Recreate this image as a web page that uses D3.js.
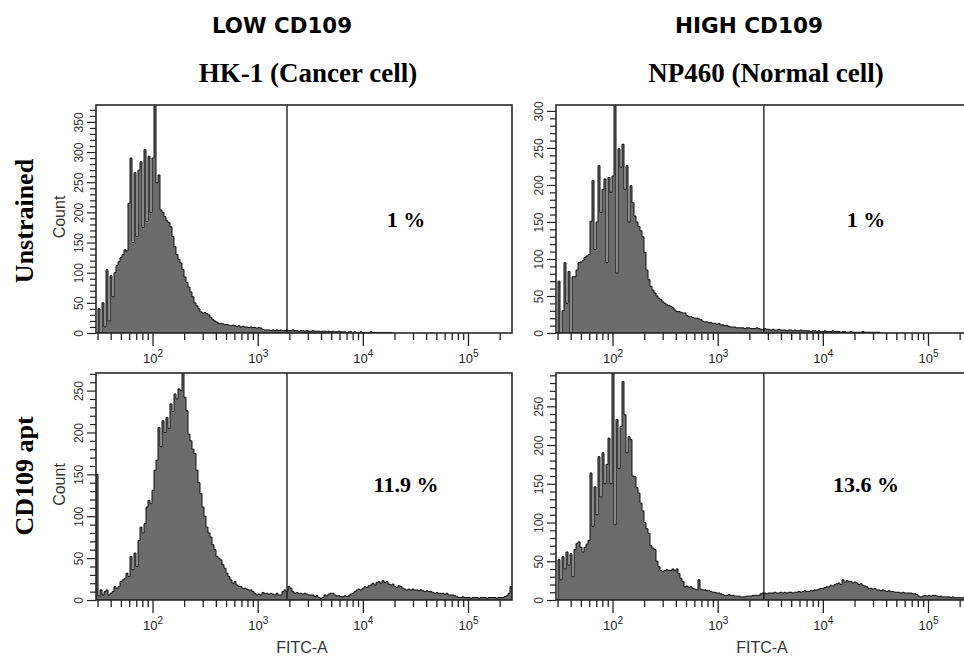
<!DOCTYPE html>
<html>
<head>
<meta charset="utf-8">
<script src="https://cdn.jsdelivr.net/npm/d3@7"></script>
<style>
  body { margin: 0; background: #fff; }
  svg { display: block; }
</style>
</head>
<body>
<svg id="chart" width="964" height="657"></svg>
<script>
// counts per channel, channels are log spaced over the FITC-A range
var hk1Unstained = [0,40,0,50,10,105,20,95,60,100, 112,118,125,130,138,136,215,290,150,266,
  160,270,284,175,304,185,293,200,290,400, 249,262,204,200,193,186,183,176,160,143,
  130,122,116,105,93,84,76,68,60,50, 45,40,35,33,34,32,30,26,22,20,
  18,16,16,15,14,14,13,12,13,12, 11,12,10,11,10,10,9,10,9,9,
  8,9,8,6,5,5,5,4,5,4, 5,4,5,4,4,5,4,4,5,4,
  4,3,4,4,3,4,3,3,4,3, 3,3,2,3,3,2,3,2,3,2,
  2,3,2,2,2,1,2,2,1,2, 1,1,2,1,1,1,1,2,1,1, 1,1,1,1,1,1,1,1];

var np460Unstained = [0,70,0,30,95,40,83,0,76,76, 85,95,96,98,102,104,106,151,206,113,
  150,226,163,194,208,95,210,190,212,320, 81,249,224,255,194,226,150,199,176,158,
  150,144,138,130,109,85,72,63,58,54, 50,47,45,42,40,38,37,36,34,31,
  29,29,28,27,27,24,22,22,21,20, 20,19,18,16,15,15,14,14,13,13,
  12,13,11,11,10,10,9,8,8,8, 7,7,7,7,6,7,7,6,6,6,
  7,6,5,5,6,5,5,4,5,4, 4,5,4,4,4,3,4,4,3,4,
  3,3,4,3,3,3,3,2,3,3, 2,3,2,2,3,2,2,2,3,2,
  2,2,1,2,2,1,1,2,1,1, 1,1,1,2,1,1,1,1,1,1,1,1];

var hk1Apt = [150,5,12,6,10,12,6,8,10,16, 14,16,22,24,26,32,28,52,36,56,
  40,71,87,80,91,111,119,115,131,155, 167,206,183,214,200,218,205,234,225,246,
  240,252,250,290,242,226,198,190,180,175, 155,140,127,111,100,87,80,75,66,60,
  52,50,48,42,38,32,28,24,20,22, 18,16,16,14,14,13,12,12,10,8,
  6,7,6,9,8,8,7,8,7,6, 8,6,6,10,12,10,16,14,10,8,
  9,8,8,7,8,7,6,6,6,4, 5,3,2,3,6,5,7,8,8,6,
  5,5,4,4,5,4,5,7,8,10, 12,13,12,14,16,15,17,18,20,18,
  21,22,20,23,21,22,19,18,19,16, 15,17,16,14,13,12,13,12,13,12,
  12,11,12,11,10,11,10,10,9,8, 9,8,8,8,7,8,6,6,6,5,
  4,3,3,4,3,3,3,2,3,3, 3,2,3,3,3,2,3,3,3,3, 2,3,3,3,4,5,8,16];

var np460Apt = [0,52,26,56,40,62,45,60,30,65, 73,75,68,62,68,72,77,164,95,146,
  110,185,133,190,150,175,209,150,300,97, 233,170,224,282,239,190,211,207,160,159,
  145,138,125,115,100,92,86,70,67,65, 50,43,38,37,38,39,38,38,40,38,
  40,34,28,24,17,18,16,17,15,14, 13,26,14,13,13,12,12,11,10,10,
  9,9,8,7,6,6,7,6,6,5, 5,5,4,4,4,5,5,5,6,6,
  6,6,8,9,9,8,9,9,9,10, 9,9,10,9,10,9,10,10,9,10,
  10,11,10,11,12,11,11,12,12,13, 13,14,15,15,16,17,17,19,18,20,
  21,22,20,26,23,25,24,24,22,23, 22,20,21,19,18,17,15,15,14,15,
  13,13,12,13,12,11,12,11,11,10, 10,10,9,10,9,9,9,9,8,8,
  7,5,4,5,6,5,6,5,6,6, 5,4,5,4,4,4,4,3,4,3, 3,3,3,3,3,3,4,8];

var channels = 208;
var fitcRange = [29, 262144];
var countMax = [378, 308, 271, 293];
var gates = [1900, 2750];
var positive = ["1 %", "1 %", "11.9 %", "13.6 %"];
var topTitles = ["LOW CD109", "HIGH CD109"];
var cellTitles = ["HK-1 (Cancer cell)", "NP460 (Normal cell)"];
var rowTitles = ["Unstrained", "CD109 apt"];

var series = [hk1Unstained, np460Unstained, hk1Apt, np460Apt];

var svg = d3.select("#chart"),
    colX = [96, 556],
    rowY = [[105, 333], [373, 600]],
    plotW = 416;

var serif = "'Liberation Serif', 'Times New Roman', serif",
    sans = "'Liberation Sans', Arial, sans-serif";

var edges = d3.range(channels + 1).map(function(j) {
  return fitcRange[0] * Math.pow(fitcRange[1] / fitcRange[0], j / channels);
});

var minorX = [], majorX = [];
[1, 2, 3, 4, 5].forEach(function(d) {
  d3.range(1, 10).forEach(function(m) {
    var v = m * Math.pow(10, d);
    if (v < fitcRange[0] || v > fitcRange[1]) return;
    (m === 1 ? majorX : minorX).push(v);
  });
});

// column titles
svg.selectAll(".top-title")
  .data(topTitles)
  .enter().append("text")
    .attr("x", function(d, i) { return [282, 749][i]; })
    .attr("y", 33)
    .attr("text-anchor", "middle")
    .attr("textLength", function(d, i) { return [140, 148][i]; })
    .attr("lengthAdjust", "spacingAndGlyphs")
    .style("font-family", "'DejaVu Sans', sans-serif")
    .style("font-weight", "bold")
    .style("font-size", "22px")
    .text(function(d) { return d; });

svg.selectAll(".cell-title")
  .data(cellTitles)
  .enter().append("text")
    .attr("x", function(d, i) { return [308, 766][i]; })
    .attr("y", 82)
    .attr("text-anchor", "middle")
    .style("font-family", serif)
    .style("font-weight", "bold")
    .style("font-size", "27px")
    .text(function(d) { return d; });

svg.selectAll(".row-title")
  .data(rowTitles)
  .enter().append("text")
    .attr("transform", function(d, i) { return "translate(33," + [221, 476][i] + ") rotate(-90)"; })
    .attr("text-anchor", "middle")
    .style("font-family", serif)
    .style("font-weight", "bold")
    .style("font-size", "26px")
    .text(function(d) { return d; });

series.forEach(function(counts, k) {
  var row = Math.floor(k / 2), col = k % 2,
      top = rowY[row][0], bottom = rowY[row][1],
      h = bottom - top;

  var g = svg.append("g").attr("transform", "translate(" + colX[col] + "," + top + ")");

  var x = d3.scaleLog().domain(fitcRange).range([0, plotW]);
  var y = d3.scaleLinear().domain([0, countMax[k]]).range([h, 0]);

  g.append("clipPath")
      .attr("id", "clip" + k)
    .append("rect")
      .attr("width", plotW)
      .attr("height", h);

  var pts = counts.map(function(c, j) { return [edges[j], c]; });
  pts.push([edges[counts.length], counts[counts.length - 1]]);

  var area = d3.area()
      .curve(d3.curveStepAfter)
      .x(function(d) { return x(d[0]); })
      .y0(y(0))
      .y1(function(d) { return y(d[1]); });

  g.append("path")
      .attr("clip-path", "url(#clip" + k + ")")
      .attr("d", area(pts))
      .attr("fill", "#6b6b6b")
      .attr("stroke", "#111")
      .attr("stroke-width", 1)
      .attr("stroke-linejoin", "miter");

  // gate
  g.append("line")
      .attr("x1", x(gates[col])).attr("x2", x(gates[col]))
      .attr("y1", 0).attr("y2", h)
      .attr("stroke", "#111")
      .attr("stroke-width", 1.3);

  g.append("rect")
      .attr("width", plotW)
      .attr("height", h)
      .attr("fill", "none")
      .attr("stroke", "#2a2a2a")
      .attr("stroke-width", 1.6);

  // x axis
  g.append("g")
      .attr("transform", "translate(0," + h + ")")
      .call(d3.axisBottom(x).tickValues(minorX).tickSize(7).tickFormat(""))
      .call(function(a) { a.select(".domain").remove(); })
      .selectAll("line").attr("stroke", "#222").attr("stroke-width", 1.3);

  var xMajor = g.append("g")
      .attr("transform", "translate(0," + h + ")")
      .call(d3.axisBottom(x).tickValues(majorX).tickSize(13))
      .call(function(a) { a.select(".domain").remove(); });
  xMajor.selectAll("line").attr("stroke", "#222").attr("stroke-width", 1.3);
  xMajor.selectAll("text")
      .attr("y", 30).attr("dy", 0)
      .style("font-family", sans)
      .style("font-size", "13px")
      .attr("fill", "#222")
      .each(function(d) {
        var t = d3.select(this).text("");
        t.append("tspan").text("10");
        t.append("tspan").attr("dy", -6).style("font-size", "10px").text(Math.round(Math.log10(d)));
      });

  // y axis
  var majorY = d3.range(0, countMax[k], 50),
      minorY = d3.range(0, countMax[k], 10).filter(function(v) { return v % 50 !== 0; });

  g.append("g")
      .call(d3.axisLeft(y).tickValues(minorY).tickSize(6).tickFormat(""))
      .call(function(a) { a.select(".domain").remove(); })
      .selectAll("line").attr("stroke", "#222").attr("stroke-width", 1.2);

  var yMajor = g.append("g")
      .call(d3.axisLeft(y).tickValues(majorY).tickSize(9))
      .call(function(a) { a.select(".domain").remove(); });
  yMajor.selectAll("line").attr("stroke", "#222").attr("stroke-width", 1.2);
  yMajor.selectAll("text")
      .attr("transform", "rotate(-90)")
      .attr("x", 0).attr("y", -13).attr("dy", 0)
      .attr("text-anchor", "middle")
      .style("font-family", sans)
      .style("font-size", "12px")
      .attr("fill", "#333");

  if (col === 0) {
    g.append("text")
        .attr("transform", "translate(-31," + (h / 2 - 2) + ") rotate(-90)")
        .attr("text-anchor", "middle")
        .style("font-family", sans)
        .style("font-size", "16px")
        .attr("fill", "#333")
        .text("Count");
  }

  if (row === 1) {
    g.append("text")
        .attr("x", 206)
        .attr("y", 653 - top)
        .attr("text-anchor", "middle")
        .style("font-family", sans)
        .style("font-size", "16px")
        .attr("fill", "#333")
        .text("FITC-A");
  }

  g.append("text")
      .attr("x", 310)
      .attr("y", [227, 492][row] - top)
      .attr("text-anchor", "middle")
      .style("font-family", serif)
      .style("font-weight", "bold")
      .style("font-size", "22px")
      .text(positive[k]);
});
</script>
</body>
</html>
